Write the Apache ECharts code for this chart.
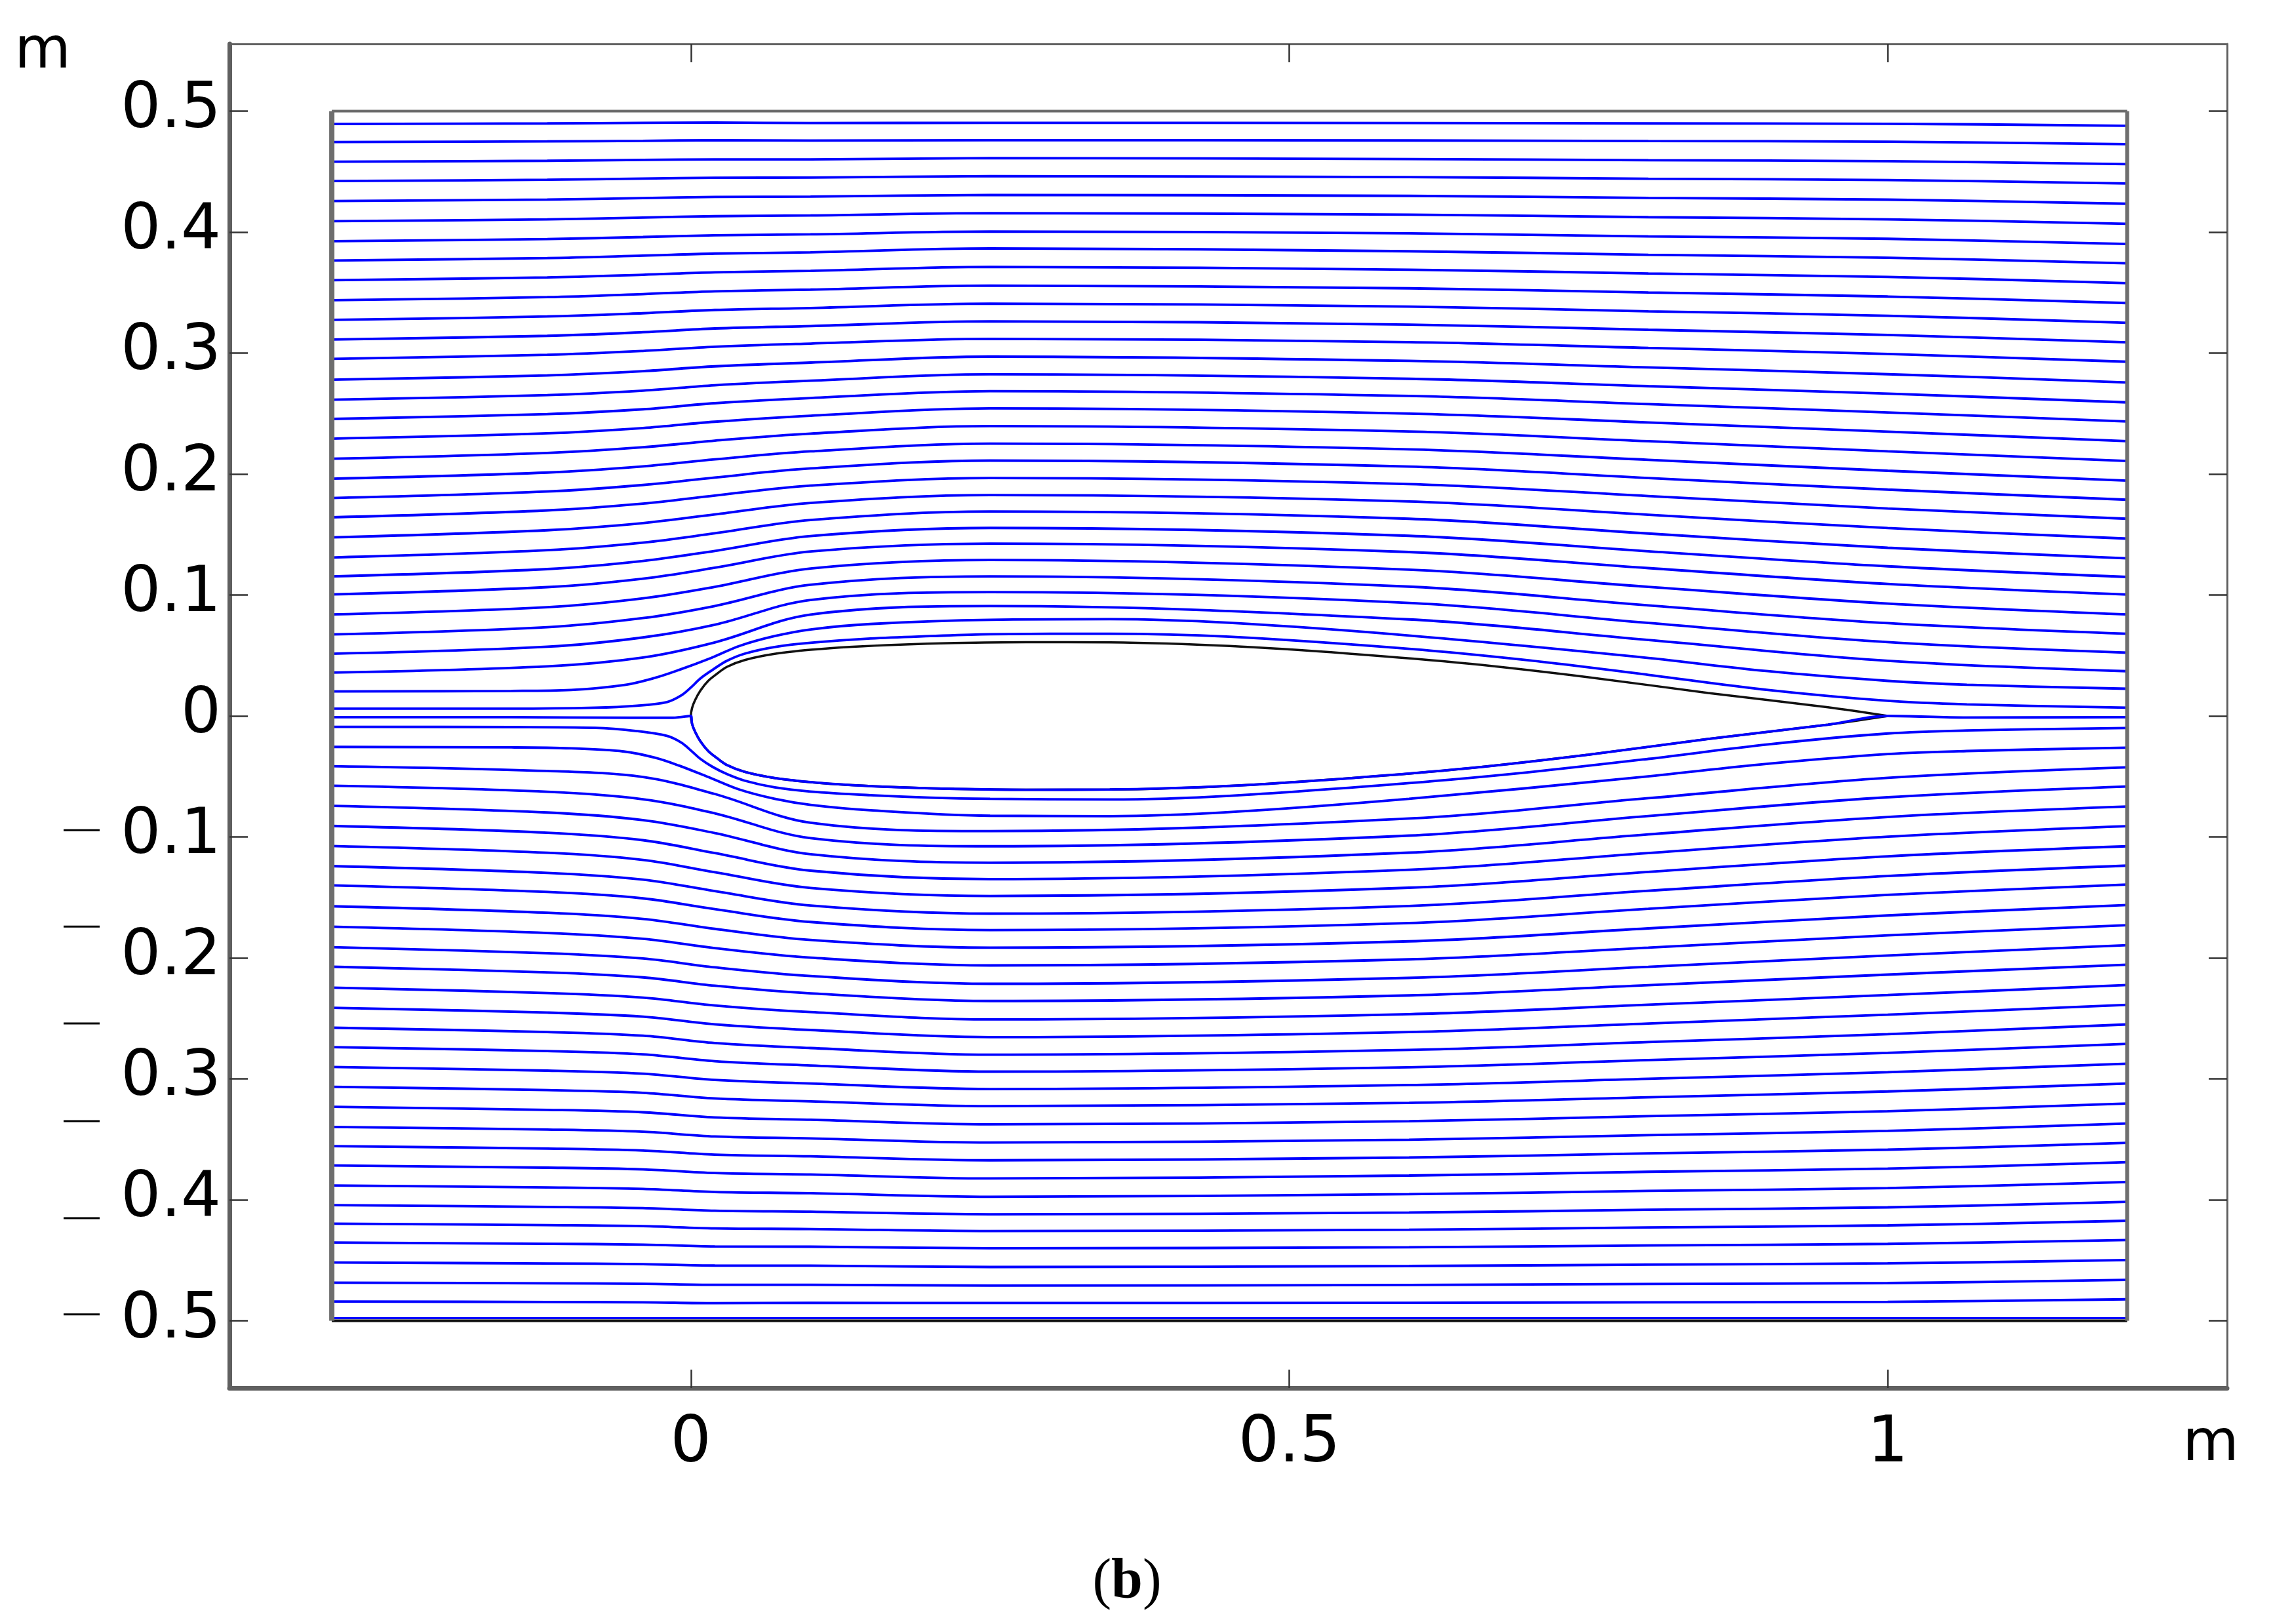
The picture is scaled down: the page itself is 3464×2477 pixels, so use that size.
<!DOCTYPE html>
<html>
<head>
<meta charset="utf-8">
<title>Streamlines around an airfoil</title>
<script src="https://cdn.jsdelivr.net/npm/echarts@6/dist/echarts.min.js"></script>
<style>
  html, body { margin: 0; padding: 0; background: #fff; }
  #chart { width: 3464px; height: 2477px; }
</style>
</head>
<body>
<div id="chart"></div>
<script>
// axes
const xRange = [-0.3855, 1.2835]
const yRange = [-0.5555, 0.5555]
const xTicks = [0, 0.5, 1]
const yTicks = [-0.5, -0.4, -0.3, -0.2, -0.1, 0, 0.1, 0.2, 0.3, 0.4, 0.5]
// the minus signs of the negative labels sit apart from the numbers
const minusY = [-0.0945, -0.1741, -0.2542, -0.3349, -0.4151, -0.4947]

// channel
const domainX = [-0.3, 1.2]
const domainY = [-0.5, 0.5]

// airfoil, upper side (lower side is its mirror)
const airfoilX = [0, 0.001, 0.0035, 0.008, 0.0145, 0.022, 0.03, 0.045, 0.07, 0.1, 0.135, 0.175, 0.22, 0.28, 0.35, 0.45, 0.55, 0.65, 0.75, 0.85, 0.95, 1.0]
const airfoilY = [0, 0.0065, 0.013, 0.021, 0.029, 0.035, 0.0405, 0.0462, 0.0513, 0.0547, 0.0572, 0.059, 0.0603, 0.061, 0.0608, 0.0578, 0.0515, 0.0432, 0.032, 0.019, 0.0072, 0]

// streamlines away from the body: inlet height + shift read at each station
const inletX = -0.3
const stationX = [-0.12, -0.04, 0.02, 0.1, 0.25, 0.6, 0.8, 1.0, 1.2]

const upperInletY = [0.0358, 0.0514, 0.0674, 0.0839, 0.1005, 0.1154, 0.1310, 0.1476, 0.1642, 0.1801, 0.1961, 0.2126, 0.2292, 0.2455, 0.2614, 0.2780, 0.2952, 0.3112, 0.3274, 0.3437, 0.3602, 0.3765, 0.3924, 0.4090, 0.4256, 0.4422, 0.4581, 0.4744, 0.4893]
const upperShift = [
  [0.0052, 0.0058, 0.006, 0.006, 0.006, 0.006, 0.006, 0.0059, 0.0057, 0.0054, 0.0051, 0.0048, 0.0044, 0.004, 0.0038, 0.0035, 0.0033, 0.003, 0.0028, 0.0025, 0.0023, 0.002, 0.0018, 0.0015, 0.0013, 0.001, 0.0008, 0.0005, 0.0005],
  [0.0125, 0.0135, 0.0135, 0.0133, 0.013, 0.0127, 0.0123, 0.0118, 0.0113, 0.0108, 0.0102, 0.0095, 0.0088, 0.008, 0.0075, 0.007, 0.0065, 0.006, 0.0055, 0.005, 0.0045, 0.004, 0.0035, 0.003, 0.0025, 0.002, 0.0015, 0.001, 0.001],
  [0.025, 0.024, 0.0235, 0.0228, 0.022, 0.021, 0.020, 0.019, 0.018, 0.017, 0.016, 0.015, 0.014, 0.013, 0.012, 0.011, 0.010, 0.0091, 0.0082, 0.0073, 0.0065, 0.0057, 0.0049, 0.0041, 0.0034, 0.0027, 0.002, 0.0015, 0.0012],
  [0.048, 0.0445, 0.041, 0.038, 0.0355, 0.0333, 0.031, 0.0285, 0.0262, 0.0245, 0.0226, 0.0208, 0.019, 0.0173, 0.0157, 0.0141, 0.0126, 0.0111, 0.0098, 0.0087, 0.0077, 0.0067, 0.0057, 0.0047, 0.0037, 0.0028, 0.002, 0.0012, 0.0008],
  [0.055, 0.051, 0.048, 0.045, 0.042, 0.040, 0.038, 0.035, 0.0325, 0.031, 0.029, 0.027, 0.025, 0.023, 0.021, 0.019, 0.0165, 0.015, 0.0134, 0.012, 0.011, 0.010, 0.008, 0.0066, 0.005, 0.004, 0.003, 0.0015, 0.001],
  [0.044, 0.042, 0.0395, 0.037, 0.035, 0.0335, 0.032, 0.0297, 0.0275, 0.026, 0.0243, 0.0225, 0.0207, 0.019, 0.0173, 0.0155, 0.0138, 0.0123, 0.011, 0.0098, 0.0087, 0.0076, 0.0065, 0.0054, 0.0043, 0.0032, 0.0022, 0.0013, 0.0008],
  [0.027, 0.0255, 0.024, 0.0228, 0.0217, 0.0207, 0.0198, 0.0187, 0.0176, 0.0166, 0.0156, 0.0145, 0.0134, 0.0123, 0.0112, 0.0101, 0.009, 0.008, 0.0071, 0.0063, 0.0055, 0.0047, 0.004, 0.0033, 0.0026, 0.0019, 0.0013, 0.0008, 0.0005],
  [0.0098, 0.0096, 0.0093, 0.009, 0.0086, 0.0083, 0.008, 0.0077, 0.0073, 0.007, 0.0066, 0.0062, 0.0058, 0.0054, 0.005, 0.0045, 0.004, 0.0037, 0.0034, 0.003, 0.0027, 0.0023, 0.002, 0.0015, 0.0012, 0.0008, 0.0005, 0.0003, 0.0002],
  [0.0012, 0.0009, 0.0005, 0, -0.0002, -0.0005, -0.0007, -0.001, -0.0012, -0.0014, -0.0016, -0.0018, -0.002, -0.0021, -0.0022, -0.0023, -0.0024, -0.0024, -0.0024, -0.0024, -0.0024, -0.0023, -0.0023, -0.0022, -0.0022, -0.0021, -0.002, -0.0018, -0.0015]
]

const lowerInletY = [-0.0415, -0.0577, -0.0743, -0.0909, -0.1075, -0.1241, -0.1400, -0.1573, -0.1742, -0.1911, -0.2073, -0.2246, -0.2412, -0.2577, -0.2737, -0.2902, -0.3065, -0.3231, -0.3397, -0.3556, -0.3716, -0.3881, -0.4044, -0.4197, -0.4353, -0.4518, -0.4684, -0.4840]
// downward shifts
const lowerShift = [
  [0.004, 0.005, 0.0055, 0.0056, 0.0056, 0.0056, 0.0055, 0.0054, 0.0052, 0.005, 0.0047, 0.0044, 0.004, 0.0036, 0.0033, 0.003, 0.0028, 0.0025, 0.0022, 0.002, 0.0018, 0.0016, 0.0014, 0.0012, 0.001, 0.0008, 0.0006, 0.0004],
  [0.009, 0.0112, 0.0118, 0.0118, 0.0115, 0.0112, 0.0108, 0.0105, 0.0100, 0.0094, 0.0088, 0.0082, 0.0074, 0.0066, 0.006, 0.0055, 0.005, 0.0045, 0.004, 0.0036, 0.0032, 0.0028, 0.0024, 0.002, 0.0017, 0.0013, 0.001, 0.0007],
  [0.023, 0.0228, 0.0225, 0.0225, 0.0217, 0.0207, 0.0197, 0.0187, 0.0177, 0.0167, 0.0157, 0.0147, 0.0137, 0.0127, 0.0117, 0.0107, 0.0097, 0.0088, 0.0079, 0.007, 0.0062, 0.0054, 0.0046, 0.0039, 0.0032, 0.0025, 0.0018, 0.0014],
  [0.0468, 0.0433, 0.04, 0.037, 0.0347, 0.0326, 0.0303, 0.0279, 0.0256, 0.0239, 0.0220, 0.0202, 0.0184, 0.0168, 0.0152, 0.0136, 0.0121, 0.0107, 0.0095, 0.0084, 0.0074, 0.0064, 0.0054, 0.0044, 0.0034, 0.0026, 0.0018, 0.0011],
  [0.0537, 0.05, 0.047, 0.044, 0.0413, 0.0393, 0.037, 0.0342, 0.032, 0.0303, 0.0283, 0.0263, 0.0243, 0.0223, 0.0203, 0.0182, 0.016, 0.0145, 0.0129, 0.0117, 0.0107, 0.0093, 0.0075, 0.0061, 0.0047, 0.0037, 0.0025, 0.0013],
  [0.0433, 0.0412, 0.0387, 0.0363, 0.0345, 0.033, 0.0312, 0.029, 0.027, 0.0254, 0.0237, 0.0219, 0.0201, 0.0184, 0.0167, 0.0149, 0.0133, 0.0119, 0.0106, 0.0094, 0.0083, 0.0072, 0.0061, 0.005, 0.0039, 0.0029, 0.0019, 0.0011],
  [0.0265, 0.025, 0.0236, 0.0224, 0.0214, 0.0204, 0.0194, 0.0183, 0.0173, 0.0163, 0.0152, 0.0141, 0.013, 0.0119, 0.0108, 0.0097, 0.0087, 0.0077, 0.0068, 0.006, 0.0052, 0.0045, 0.0038, 0.0031, 0.0024, 0.0017, 0.0011, 0.0007],
  [0.0097, 0.0095, 0.0092, 0.0089, 0.0085, 0.0082, 0.0079, 0.0076, 0.0072, 0.0069, 0.0065, 0.0061, 0.0057, 0.0053, 0.0048, 0.0043, 0.0039, 0.0036, 0.0033, 0.0029, 0.0026, 0.0022, 0.0018, 0.0014, 0.0011, 0.0007, 0.0004, 0.0003],
  [0.001, 0.0006, 0.0006, 0.0002, 0.0002, -0.0004, -0.0006, -0.001, -0.0012, -0.0016, -0.0017, -0.0022, -0.0024, -0.0027, -0.0027, -0.0028, -0.0027, -0.0027, -0.0028, -0.0027, -0.0027, -0.0028, -0.0028, -0.0024, -0.0021, -0.002, -0.0022, -0.0018]
]

// streamlines hugging the body, read point by point [x, y]
const lineU1 = [[-0.3, 0.006], [-0.15, 0.006], [-0.08, 0.0068], [-0.045, 0.0085], [-0.02, 0.0115], [-0.008, 0.017], [0, 0.0235], [0.008, 0.031], [0.018, 0.038], [0.03, 0.0455], [0.045, 0.0515], [0.07, 0.057], [0.1, 0.0605], [0.15, 0.064], [0.2, 0.066], [0.25, 0.0675], [0.35, 0.068], [0.45, 0.0655], [0.6, 0.0555], [0.7, 0.046], [0.8, 0.034], [0.9, 0.0215], [1.0, 0.0125], [1.066, 0.0096], [1.2, 0.0068]]
const lineU2 = [[-0.3, 0.0203], [-0.15, 0.0207], [-0.1, 0.0215], [-0.056, 0.0255], [-0.03, 0.0315], [-0.01, 0.038], [0.017, 0.048], [0.041, 0.058], [0.07, 0.066], [0.1, 0.0715], [0.15, 0.076], [0.25, 0.0795], [0.35, 0.08], [0.45, 0.077], [0.6, 0.0665], [0.79, 0.049], [0.9, 0.037], [1.0, 0.029], [1.066, 0.0258], [1.2, 0.0225]]
const lineL1 = [[-0.3, -0.009], [-0.15, -0.0092], [-0.08, -0.0098], [-0.045, -0.0125], [-0.02, -0.0165], [-0.008, -0.022], [0, -0.0285], [0.008, -0.0355], [0.018, -0.042], [0.03, -0.048], [0.045, -0.0535], [0.07, -0.059], [0.1, -0.0625], [0.15, -0.0655], [0.2, -0.0675], [0.25, -0.0685], [0.35, -0.069], [0.45, -0.066], [0.6, -0.0555], [0.7, -0.0465], [0.8, -0.0355], [0.9, -0.0235], [1.0, -0.0145], [1.066, -0.012], [1.2, -0.010]]
const lineL2 = [[-0.3, -0.0256], [-0.15, -0.026], [-0.1, -0.0268], [-0.056, -0.0294], [-0.03, -0.0345], [-0.01, -0.041], [0.017, -0.0515], [0.041, -0.061], [0.07, -0.0685], [0.1, -0.0735], [0.15, -0.078], [0.25, -0.0825], [0.35, -0.0828], [0.45, -0.0795], [0.6, -0.0685], [0.79, -0.0509], [0.9, -0.0395], [1.0, -0.0315], [1.066, -0.029], [1.2, -0.0262]]
// dividing streamline: inlet to the nose, then along the lower side, then the wake
const divideIn = [[-0.3, -0.001], [-0.15, -0.001], [-0.05, -0.0015], [-0.015, -0.0015]]
const divideOut = [[1.066, -0.0013], [1.2, -0.001]]
const bottomWallLineY = -0.4978

const BLUE = '#0000ff'
const FONT = 'DejaVu Sans'

const chart = echarts.init(document.getElementById('chart'))

const stream = (data, z) => ({
  type: 'line',
  data: data,
  symbol: 'none',
  smooth: 0.35,
  silent: true,
  animation: false,
  lineStyle: { color: BLUE, width: 3.8 },
  z: z || 2
})

const farLine = (inlet, shifts, i, sign) => {
  const pts = [[inletX, inlet[i]]]
  stationX.forEach((x, s) => pts.push([x, inlet[i] + sign * shifts[s][i]]))
  return pts
}

const seg = (data, color, width, z) => ({
  type: 'line',
  data: data,
  symbol: 'none',
  silent: true,
  animation: false,
  lineStyle: { color: color, width: width },
  z: z
})

const series = []
upperInletY.forEach((v, i) => series.push(stream(farLine(upperInletY, upperShift, i, 1))))
lowerInletY.forEach((v, i) => series.push(stream(farLine(lowerInletY, lowerShift, i, -1))))
series.push(stream(lineU1), stream(lineU2), stream(lineL1), stream(lineL2))

// airfoil outline, closed, from the trailing edge over the top and back under
const upperPts = airfoilX.map((x, i) => [x, airfoilY[i]])
const lowerPts = airfoilX.map((x, i) => [x, -airfoilY[i]])
const outline = upperPts.slice().reverse().concat(lowerPts.slice(1))
series.push({
  type: 'line',
  data: outline,
  symbol: 'none',
  smooth: 0.3,
  silent: true,
  animation: false,
  lineStyle: { color: '#111', width: 3.5 },
  z: 3
})

// dividing streamline lies on the lower surface
series.push(stream(divideIn.concat(lowerPts, divideOut), 4))

// channel walls
series.push(seg([[domainX[0], domainY[1]], [domainX[1], domainY[1]]], '#6a6a6a', 4, 5))
series.push(seg([[domainX[0], bottomWallLineY], [domainX[1], bottomWallLineY]], BLUE, 3, 5))
series.push(seg([[domainX[0], domainY[0]], [domainX[1], domainY[0]]], '#111', 4, 6))
series.push(seg([[domainX[0], domainY[0]], [domainX[0], domainY[1]]], '#6e6e6e', 8, 6))
series.push(seg([[domainX[1], domainY[0]], [domainX[1], domainY[1]]], '#6e6e6e', 6, 6))

const fmt = (v) => String(Math.abs(Math.round(v * 10) / 10))

const tick = { show: true, inside: true, length: 28, lineStyle: { color: '#333', width: 2.5 } }
const frame = (w) => ({ show: true, onZero: false, lineStyle: { color: '#606060', width: w } })

chart.setOption({
  backgroundColor: '#fff',
  animation: false,
  grid: { left: 350, right: 67, top: 67, bottom: 360 },
  xAxis: [
    {
      type: 'value', position: 'bottom', min: xRange[0], max: xRange[1],
      axisLine: frame(7),
      axisTick: Object.assign({ customValues: xTicks }, tick),
      axisLabel: { customValues: xTicks, formatter: fmt, fontSize: 98, fontFamily: FONT, color: '#000', margin: 38 },
      splitLine: { show: false }
    },
    {
      type: 'value', position: 'top', min: xRange[0], max: xRange[1],
      axisLine: frame(3),
      axisTick: Object.assign({ customValues: xTicks }, tick),
      axisLabel: { show: false },
      splitLine: { show: false }
    }
  ],
  yAxis: [
    {
      type: 'value', position: 'left', min: yRange[0], max: yRange[1],
      axisLine: frame(7),
      axisTick: Object.assign({ customValues: yTicks }, tick),
      axisLabel: { customValues: yTicks, formatter: fmt, fontSize: 96, fontFamily: FONT, color: '#000', margin: 13 },
      splitLine: { show: false }
    },
    {
      type: 'value', position: 'right', min: yRange[0], max: yRange[1],
      axisLine: frame(3),
      axisTick: Object.assign({ customValues: yTicks }, tick),
      axisLabel: { show: false },
      splitLine: { show: false }
    }
  ],
  series: series
})

// loose decorations: unit labels, detached minus signs, panel caption
const graphic = [
  { type: 'text', style: { x: 65, y: 80, text: 'm', font: '88px "DejaVu Sans"', fill: '#000', align: 'center', verticalAlign: 'middle' } },
  { type: 'text', style: { x: 3372, y: 2204, text: 'm', font: '88px "DejaVu Sans"', fill: '#000', align: 'center', verticalAlign: 'middle' } },
  {
    type: 'text',
    style: {
      x: 1719, y: 2414, align: 'center', verticalAlign: 'middle',
      text: '({b|b})',
      font: '86px "Liberation Serif"', fill: '#000',
      rich: { b: { font: 'bold 86px "Liberation Serif"', fill: '#000' } }
    }
  }
]
minusY.forEach((v) => {
  const py = chart.convertToPixel({ yAxisIndex: 0 }, v)
  graphic.push({ type: 'line', shape: { x1: 97, y1: py, x2: 152, y2: py }, style: { stroke: '#000', lineWidth: 3 } })
})
chart.setOption({ graphic: graphic })
</script>
</body>
</html>
